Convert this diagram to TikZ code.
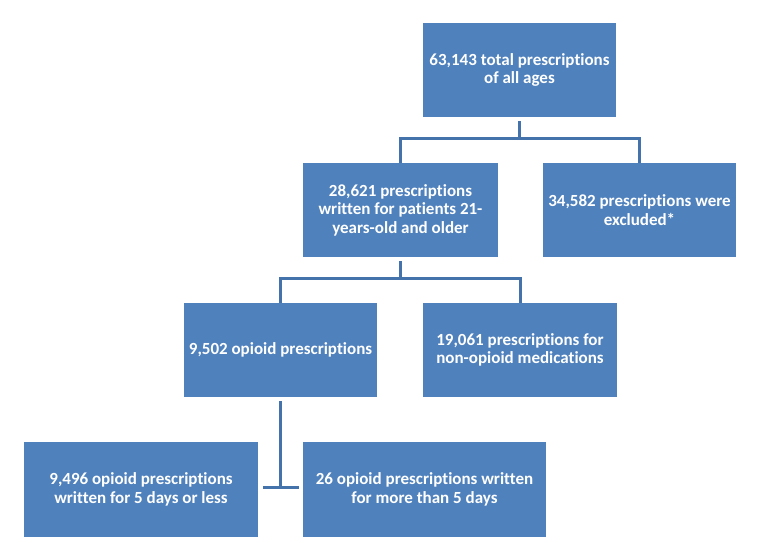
\documentclass[tikz,border=0pt]{standalone}
\usepackage{fontspec}
\setmainfont{Carlito}[Ligatures=NoCommon]
\definecolor{boxblue}{RGB}{79,129,189}
\definecolor{lineblue}{RGB}{68,114,170}
\begin{document}
\begin{tikzpicture}[x=1pt,y=1pt,
  box/.style={rectangle, fill=boxblue, draw=none, text=white, align=center,
    font=\fontsize{17}{18.5}\selectfont\bfseries, inner sep=0pt},
  conn/.style={draw=lineblue, line width=3pt}]
\useasboundingbox (0,0) rectangle (757,543);
\node[box, minimum width=193, minimum height=94] (b1) at (519.5,473) {63,143 total prescriptions\\of all ages};
\node[box, minimum width=195, minimum height=94] (b2) at (400.5,333) {28,621 prescriptions\\written for patients 21-\\years-old and older};
\node[box, minimum width=193, minimum height=94] (b3) at (639.5,333) {34,582 prescriptions were\\excluded*};
\node[box, minimum width=193, minimum height=94] (b4) at (280.5,193) {9,502 opioid prescriptions};
\node[box, minimum width=194, minimum height=94] (b5) at (520,193) {19,061 prescriptions for\\non-opioid medications};
\node[box, minimum width=234, minimum height=95] (b6) at (141,53.5) {9,496 opioid prescriptions\\written for 5 days or less};
\node[box, minimum width=243, minimum height=95] (b7) at (424.5,53.5) {26 opioid prescriptions written\\for more than 5 days};
\coordinate (j1) at (519.5,404);
\coordinate (j2) at (400.5,264);
\coordinate (j3) at (280.5,55);
\coordinate (h1) at (263,55);
\coordinate (h2) at (299,55);
\draw[conn] ([yshift=-4]b1.south) -- (j1);
\draw[conn] (b2.north) |- (j1) -| (b3.north);
\draw[conn] ([yshift=-4]b2.south) -- (j2);
\draw[conn] (b4.north) |- (j2) -| (b5.north);
\draw[conn] ([yshift=-4]b4.south) -- (j3);
\draw[conn] (h1) -- (h2);
\end{tikzpicture}
\end{document}
